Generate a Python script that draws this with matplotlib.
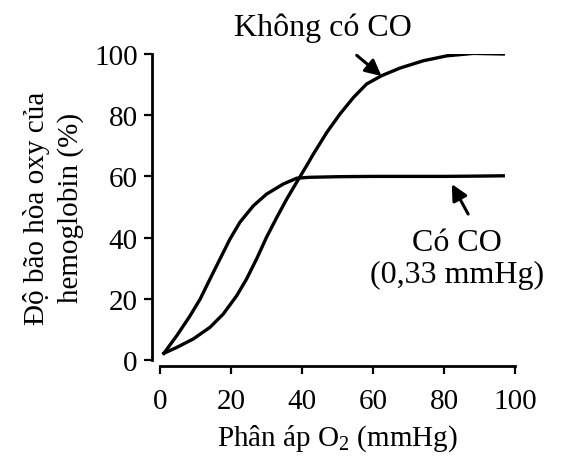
import matplotlib
matplotlib.use("Agg")
import matplotlib.pyplot as plt

plt.rcParams["font.family"] = ["Liberation Serif", "DejaVu Serif"]
plt.rcParams["mathtext.fontset"] = "custom"
plt.rcParams["mathtext.rm"] = "Liberation Serif"
plt.rcParams["mathtext.it"] = "Liberation Serif:italic"

# values
p_no_co = [1.1, 4.7, 9.4, 14.1, 17.8, 21.6, 24.4, 27.2, 30.0, 32.9, 35.7,
           38.5, 41.3, 43.2, 47.0, 50.7, 54.5, 58.2, 62.4, 67.6, 74.2,
           80.8, 88.3, 96.7]
s_no_co = [2.2, 4.1, 6.9, 10.7, 15.0, 21.0, 26.5, 33.0, 40.1, 46.6, 52.6,
           58.1, 63.5, 67.3, 74.4, 80.4, 85.8, 90.2, 92.9, 95.4, 97.8,
           99.4, 100.2, 100.0]

p_co = [1.1, 4.7, 8.5, 11.3, 14.1, 16.9, 19.7, 22.5, 26.3, 30.0, 34.7,
        38.5, 42.0, 50.0, 60.0, 70.0, 80.0, 90.0, 96.7]
s_co = [2.2, 7.9, 14.5, 19.9, 26.5, 33.0, 39.5, 45.0, 50.4, 54.2, 57.5,
        59.4, 59.7, 59.9, 60.0, 60.0, 60.0, 60.1, 60.2]

ticks = [0, 20, 40, 60, 80, 100]

fig = plt.figure(figsize=(5.66, 4.64), dpi=100)
ax = fig.add_axes([160/566, 103/464, 355/566, 306/464])

ax.plot(p_no_co, s_no_co, color="black", lw=2.4, solid_joinstyle="round")
ax.plot(p_co, s_co, color="black", lw=2.4, solid_joinstyle="round")

ax.set_xlim(0, 100); ax.set_ylim(0, 100)
ax.set_xticks(ticks); ax.set_yticks(ticks)
for s in ("top", "right"):
    ax.spines[s].set_visible(False)
ax.spines["left"].set_position(("outward", 6))
ax.spines["bottom"].set_position(("outward", 4))
ax.spines["left"].set_bounds(0, 100)
ax.spines["bottom"].set_bounds(0, 100)
for s in ("left", "bottom"):
    ax.spines[s].set_linewidth(2.0)
ax.tick_params(direction="out", length=6, width=1.6, labelsize=21)
ax.tick_params(axis="x", pad=10)
ax.tick_params(axis="y", pad=4)

ax.set_xlabel(r"Phân áp O$_2$ (mmHg)", fontsize=21, labelpad=6)
ax.set_ylabel("Độ bão hòa oxy của\nhemoglobin (%)", fontsize=21,
              labelpad=7, linespacing=1.35)

ax.annotate("Không có CO", xy=(62.4, 92.8), xytext=(45.9, 108.8),
            ha="center", va="center", fontsize=23, annotation_clip=False,
            arrowprops=dict(arrowstyle="-|>", color="black", lw=2.2,
                            mutation_scale=24, shrinkA=12, shrinkB=0))
ax.annotate("", xy=(82.2, 57.5), xytext=(86.8, 47.7),
            arrowprops=dict(arrowstyle="-|>", color="black", lw=2.2,
                            mutation_scale=24, shrinkA=0, shrinkB=0))
ax.text(83.6, 33.2, "Có CO\n(0,33 mmHg)", ha="center", va="center",
        fontsize=23, linespacing=1.15, multialignment="center")

fig.savefig("out.png", dpi=100)
